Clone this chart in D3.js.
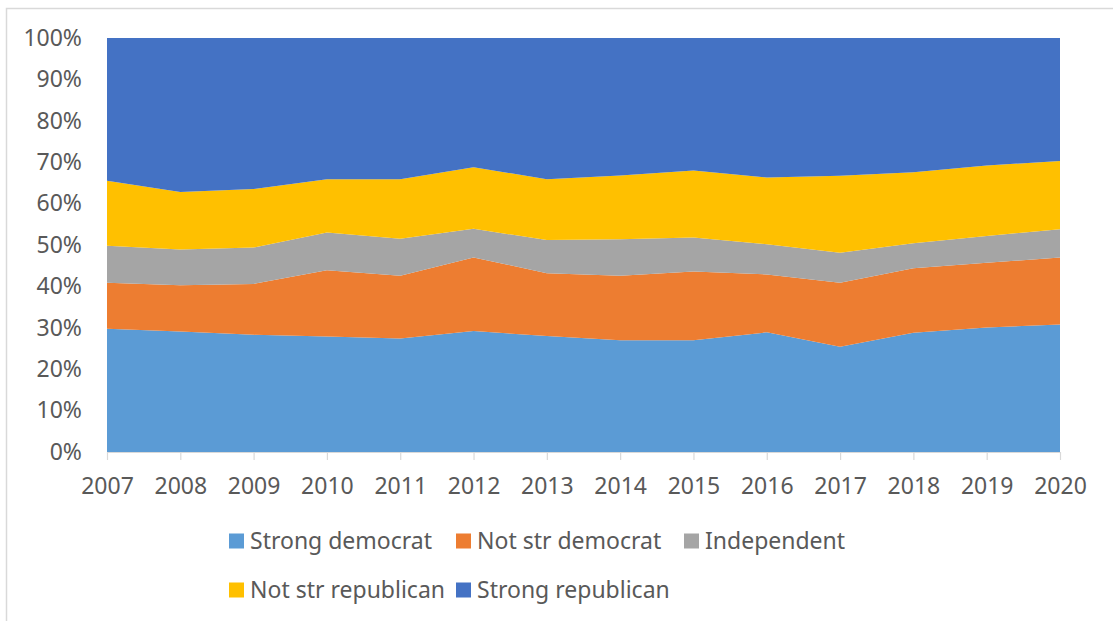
<!DOCTYPE html>
<html>
<head>
<meta charset="utf-8">
<script src="https://cdn.jsdelivr.net/npm/d3@7"></script>
<style>
  html, body { margin: 0; padding: 0; background: #fff; }
  svg { display: block; font-family: "Noto Sans", "Open Sans", sans-serif; }
</style>
</head>
<body>
<svg id="chart" width="1113" height="621"></svg>
<script>
const years = ["2007","2008","2009","2010","2011","2012","2013","2014","2015","2016","2017","2018","2019","2020"];
const seriesNames = ["Strong democrat","Not str democrat","Independent","Not str republican","Strong republican"];
const strongDemocrat   = [29.8,29.1,28.3,27.9,27.4,29.2,28.0,27.0,27.0,28.9,25.4,28.8,30.1,30.8];
const notStrDemocrat   = [11.1,11.2,12.3,16.0,15.2,17.8,15.2,15.6,16.6,14.0,15.5,15.6,15.6,16.2];
const independent      = [ 8.9, 8.6, 8.8, 9.1, 8.9, 6.9, 8.0, 8.8, 8.2, 7.3, 7.2, 6.0, 6.5, 6.8];
const notStrRepublican = [15.7,13.9,14.1,12.9,14.4,14.9,14.7,15.4,16.2,16.1,18.6,17.2,17.0,16.5];
const strongRepublican = [34.5,37.2,36.5,34.1,34.1,31.2,34.1,33.2,32.0,33.7,33.3,32.4,30.8,29.7];
const yTicks = [0,0.1,0.2,0.3,0.4,0.5,0.6,0.7,0.8,0.9,1.0];
const colors = ["#5B9BD5","#ED7D31","#A5A5A5","#FFC000","#4472C4"];

(function () {
const seriesValues = [strongDemocrat, notStrDemocrat, independent, notStrRepublican, strongRepublican];
const table = years.map((yr, i) => {
  const row = { year: yr };
  seriesNames.forEach((n, k) => row[n] = seriesValues[k][i]);
  return row;
});

const svg = d3.select("#chart");
const mLeft = 107, mRight = 1060, mTop = 38, mBottom = 452;
const fontSize = "23px";

// outer border (chart frame, cropped on right/bottom)
svg.append("path")
  .attr("d", "M6.5,630 L6.5,8.5 L1120,8.5")
  .attr("fill", "none").attr("stroke", "#D9D9D9").attr("stroke-width", 1.5);

const x = d3.scalePoint().domain(years).range([mLeft, mRight]);
const y = d3.scaleLinear().domain([0, 1]).range([mBottom, mTop]);

const stack = d3.stack().keys(seriesNames).offset(d3.stackOffsetExpand);
const layers = stack(table);

const area = d3.area()
  .x(d => x(d.data.year))
  .y0(d => y(d[0]))
  .y1(d => y(d[1]));

svg.append("g").selectAll("path")
  .data(layers)
  .join("path")
  .attr("d", area)
  .attr("fill", (d, i) => colors[i]);

// x axis
const xAxis = d3.axisBottom(x).tickSize(8).tickSizeOuter(0).tickPadding(18);
const gx = svg.append("g").attr("transform", `translate(0,${mBottom})`).call(xAxis);
gx.select(".domain").attr("stroke", "#D9D9D9").attr("stroke-width", 1.2);
gx.selectAll(".tick line").attr("stroke", "#D9D9D9").attr("stroke-width", 1.2);
gx.selectAll(".tick text").attr("fill", "#595959").style("font-size", fontSize)
  .style("font-family", "'Noto Sans', sans-serif");

// y axis labels
const yAxis = d3.axisLeft(y).tickValues(yTicks).tickFormat(d3.format(".0%")).tickSize(0).tickPadding(25);
const gy = svg.append("g").attr("transform", `translate(${mLeft},0)`).call(yAxis);
gy.select(".domain").remove();
gy.selectAll(".tick text").attr("fill", "#595959").style("font-size", fontSize)
  .style("font-family", "'Noto Sans', sans-serif");

// legend
const legendCols = [229, 456, 684];
const legendRows = [541, 590];
const legendItems = seriesNames.map((n, i) => ({ name: n, color: colors[i], col: i < 3 ? i : i - 3, row: i < 3 ? 0 : 1 }));
const lg = svg.append("g").selectAll("g").data(legendItems).join("g")
  .attr("transform", d => `translate(${legendCols[d.col]},${legendRows[d.row]})`);
lg.append("rect").attr("x", 0).attr("y", -7.5).attr("width", 15).attr("height", 15).attr("fill", d => d.color);
lg.append("text").attr("x", 21).attr("y", 0).attr("dy", "0.35em")
  .attr("fill", "#595959").style("font-size", fontSize).text(d => d.name);
})();
</script>
</body>
</html>
